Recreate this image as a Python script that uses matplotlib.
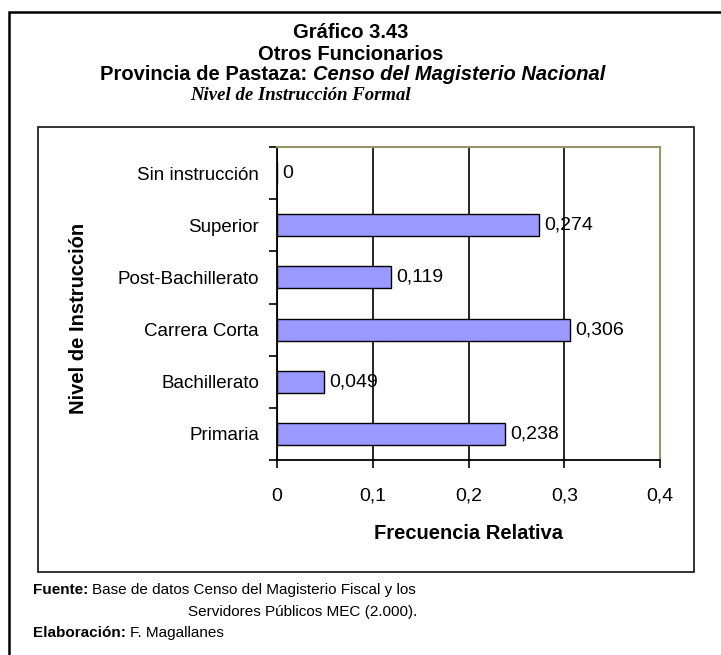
import matplotlib
matplotlib.use("Agg")
import matplotlib.pyplot as plt
from matplotlib.patches import Rectangle
from matplotlib.ticker import FixedLocator

# datos del gráfico (de abajo hacia arriba)
categorias = ["Primaria", "Bachillerato", "Carrera Corta",
              "Post-Bachillerato", "Superior", "Sin instrucción"]
frecuencias = [0.238, 0.049, 0.306, 0.119, 0.274, 0.0]
xticks = [0, 0.1, 0.2, 0.3, 0.4]

plt.rcParams['font.family'] = ['Liberation Sans', 'DejaVu Sans']

W, H = 721, 655
fig = plt.figure(figsize=(W / 100, H / 100), dpi=100)

def px(x0, y0, x1, y1):
    # caja en pixeles -> fracciones de figura
    return (x0 / W, 1 - y1 / H, (x1 - x0) / W, (y1 - y0) / H)

def texto_seguido(x, y, partes, **kw):
    # escribe varios trozos con estilos distintos en la misma línea
    for s, estilo in partes:
        t = fig.text(x / W, 1 - y / H, s, ha='left', va='center', **kw, **estilo)
        fig.canvas.draw()
        x = t.get_window_extent().x1

# marco exterior y marco del gráfico
l, b, w, h = px(9, 12, 760, 700)
fig.add_artist(Rectangle((l, b), w, h, transform=fig.transFigure,
                         fill=False, edgecolor='black', linewidth=1.8))
l, b, w, h = px(38, 127, 694, 572)
fig.add_artist(Rectangle((l, b), w, h, transform=fig.transFigure,
                         fill=False, edgecolor='#222222', linewidth=1.3))

# títulos
fig.text(351 / W, 1 - 33 / H, "Gráfico 3.43", ha='center', va='center',
         fontsize=14.5, fontweight='bold')
fig.text(351 / W, 1 - 54 / H, "Otros Funcionarios", ha='center', va='center',
         fontsize=14.5, fontweight='bold')
texto_seguido(100, 75, [("Provincia de Pastaza: ", {}),
                        ("Censo del Magisterio Nacional", {'fontstyle': 'italic'})],
              fontsize=14.5, fontweight='bold')
fig.text(190 / W, 1 - 95 / H, "Nivel de Instrucción Formal", ha='left',
         va='center', fontsize=13.5, fontstyle='italic', fontweight='bold',
         family=['Liberation Serif', 'DejaVu Serif'])

# área de trazado
l, b, w, h = px(277, 147, 660, 460)
ax = fig.add_axes([l, b, w, h])
pos = list(range(len(categorias)))
ax.barh(pos, frecuencias, height=0.42, color='#9999ff',
        edgecolor='black', linewidth=1.0, zorder=3)
for p, v in zip(pos, frecuencias):
    etiqueta = "0" if v == 0 else f"{v:.3f}".replace('.', ',')
    ax.text(v + 0.0055, p, etiqueta, va='center', ha='left', fontsize=14,
            zorder=4)

ax.set_xlim(0, 0.4)
ax.set_ylim(-0.5, len(categorias) - 0.5)
ax.set_xticks(xticks)
ax.set_xticklabels([("0" if x == 0 else f"{x:.1f}".replace('.', ','))
                    for x in xticks], fontsize=14)
ax.set_yticks(pos)
ax.set_yticklabels(categorias, fontsize=13.5)
ax.yaxis.set_minor_locator(FixedLocator([p - 0.5 for p in pos] + [len(pos) - 0.5]))
ax.tick_params(axis='y', which='major', length=0, pad=13)
ax.tick_params(axis='y', which='minor', length=6, width=1.2, direction='out')
ax.tick_params(axis='x', which='major', length=6, width=1.2, direction='out', pad=14)
ax.grid(axis='x', color='black', linewidth=1.2, zorder=1)

for s in ['left', 'bottom']:
    ax.spines[s].set_color('black')
    ax.spines[s].set_linewidth(1.3)
for s in ['top', 'right']:
    ax.spines[s].set_color('#959565')
    ax.spines[s].set_linewidth(1.5)

ax.set_xlabel("Frecuencia Relativa", fontsize=14.5, fontweight='bold', labelpad=14)
fig.text(79 / W, 1 - 318 / H, "Nivel de Instrucción", rotation=90, ha='center',
         va='center', fontsize=14.5, fontweight='bold')

# fuente y elaboración
texto_seguido(33, 590, [("Fuente: ", {'fontweight': 'bold'}),
                        ("Base de datos Censo del Magisterio Fiscal y los", {})],
              fontsize=11)
fig.text(188 / W, 1 - 612 / H, "Servidores Públicos MEC (2.000).", ha='left',
         va='center', fontsize=11)
texto_seguido(33, 633, [("Elaboración: ", {'fontweight': 'bold'}),
                        ("F. Magallanes", {})],
              fontsize=11)

fig.savefig("out.png", dpi=100)
